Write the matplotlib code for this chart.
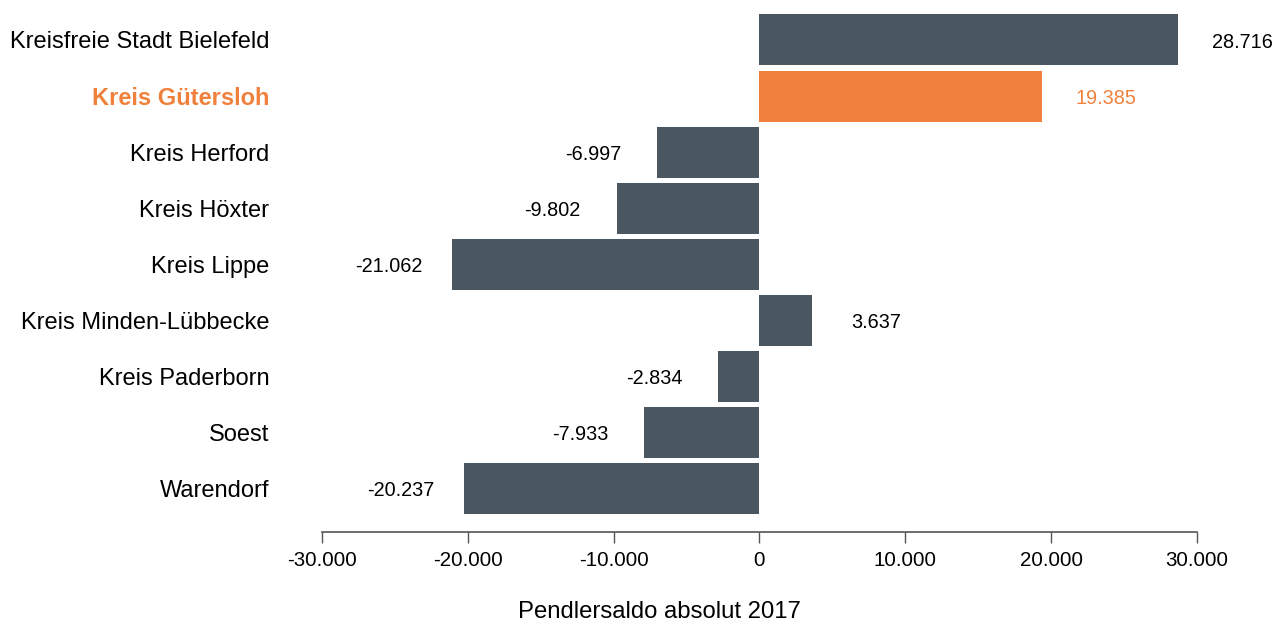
import matplotlib
matplotlib.use("Agg")
import matplotlib.pyplot as plt

matplotlib.rcParams['font.family'] = ['Liberation Sans', 'DejaVu Sans']

regions = ["Kreisfreie Stadt Bielefeld", "Kreis Gütersloh", "Kreis Herford",
           "Kreis Höxter", "Kreis Lippe", "Kreis Minden-Lübbecke",
           "Kreis Paderborn", "Soest", "Warendorf"]
saldo = [28716, 19385, -6997, -9802, -21062, 3637, -2834, -7933, -20237]
highlight = "Kreis Gütersloh"

xticks = [-30000, -20000, -10000, 0, 10000, 20000, 30000]
xticklabels = ["-30.000", "-20.000", "-10.000", "0", "10.000", "20.000", "30.000"]

dark = "#4a5760"
orange = "#f0813c"


def fmt(v):
    return "{:,}".format(v).replace(",", ".")


fig = plt.figure(figsize=(12.72, 6.23), dpi=100)
ax = fig.add_axes([0.2531, 0.1461, 0.6879, 0.8379])

colors = [orange if r == highlight else dark for r in regions]
ypos = list(range(len(regions)))
ax.barh(ypos, saldo, height=0.91, color=colors, zorder=2)

# value labels sit a fixed distance beyond the bar end
for y, v, r in zip(ypos, saldo, regions):
    off = 46 if v >= 0 else -46
    ax.annotate(fmt(v), (v, y), xytext=(off, -1.5), textcoords="offset points",
                ha="center", va="center", fontsize=14.3,
                color=orange if r == highlight else "black")

ax.set_xlim(-30000, 30000)
ax.set_ylim(len(regions) - 1 + 0.776, -0.535)
ax.set_yticks(ypos)
ax.set_yticklabels(regions, fontsize=17)
for lbl in ax.get_yticklabels():
    if lbl.get_text() == highlight:
        lbl.set_color(orange)
        lbl.set_fontweight("bold")
ax.tick_params(axis="y", length=0, pad=38)

ax.set_xticks(xticks)
ax.set_xticklabels(xticklabels, fontsize=14.8)
ax.tick_params(axis="x", length=8, width=1, color="#555555", pad=6)
ax.set_xlabel("Pendlersaldo absolut 2017", fontsize=17.2, va="center")
ax.xaxis.set_label_coords(0.386, -0.153)

for s in ["top", "right", "left"]:
    ax.spines[s].set_visible(False)
ax.spines["bottom"].set_color("#555555")
ax.spines["bottom"].set_linewidth(1.2)

fig.savefig("out.png", dpi=100)
plt.close(fig)
